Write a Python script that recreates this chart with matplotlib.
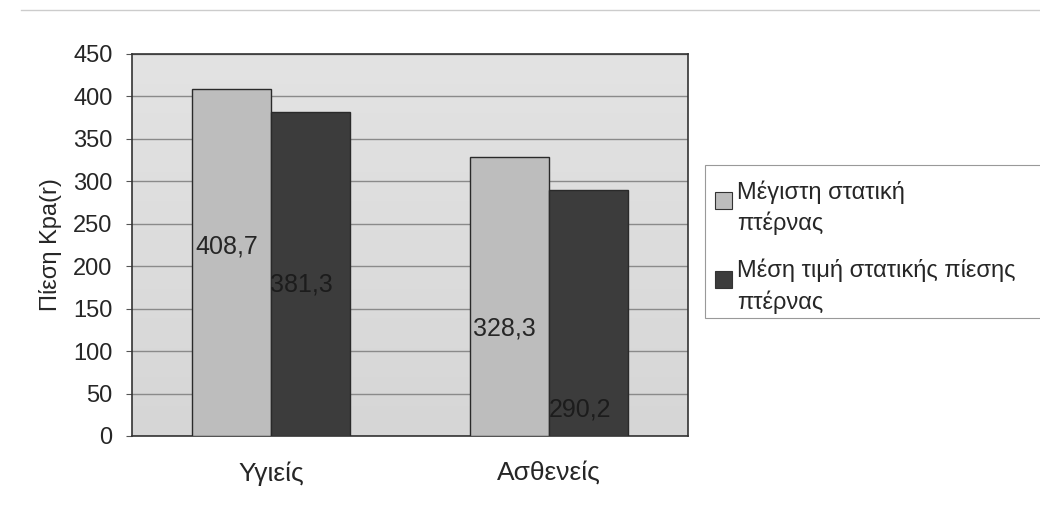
import matplotlib
matplotlib.use("Agg")
import matplotlib.pyplot as plt
import numpy as np
from matplotlib.patches import Rectangle
from matplotlib.lines import Line2D
from matplotlib.colors import LinearSegmentedColormap

plt.rcParams['font.family'] = ['Liberation Sans', 'DejaVu Sans']

categories = ["Υγιείς", "Ασθενείς"]
series_names = ["Μέγιστη στατική\nπτέρνας", "Μέση τιμή στατικής πίεσης\nπτέρνας"]
max_static = [408.7, 328.3]
mean_static = [381.3, 290.2]
label_texts_max = ["408,7", "328,3"]
label_texts_mean = ["381,3", "290,2"]
yticks = [0, 50, 100, 150, 200, 250, 300, 350, 400, 450]

# label vertical placement as fraction of the bar height (style)
label_frac_max = [0.546, 0.387]
label_frac_mean = [0.467, 0.107]

c_light = "#bdbdbd"
c_dark = "#3c3c3c"
series_colors = [c_light, c_dark]
txt = "#262626"

W, H = 1040, 514
fig = plt.figure(figsize=(10.4, 5.14), dpi=100)
fig.patch.set_facecolor("white")
ax = fig.add_axes([132/W, 1-436/H, (688-132)/W, (436-54)/H])

grad = np.linspace(0, 1, 256).reshape(-1, 1)
cmap = LinearSegmentedColormap.from_list("bg", ["#d6d6d6", "#e3e3e3"])
ax.imshow(grad, extent=[-0.5, 1.5, 0, 450], origin="lower", cmap=cmap,
          aspect="auto", zorder=0)

x = np.arange(len(categories))
w = 0.284
ax.bar(x - w/2, max_static, w, color=c_light, edgecolor="#2a2a2a", linewidth=1.0, zorder=3)
ax.bar(x + w/2, mean_static, w, color=c_dark, edgecolor="#2a2a2a", linewidth=1.0, zorder=3)

for i in range(len(categories)):
    ax.text(x[i] - w + 0.012, max_static[i]*label_frac_max[i], label_texts_max[i],
            fontsize=18, color=txt, ha="left", va="center", zorder=4)
    ax.text(x[i] - 0.002, mean_static[i]*label_frac_mean[i], label_texts_mean[i],
            fontsize=18, color="#1c1c1c", ha="left", va="center", zorder=4)

ax.set_xlim(-0.5, 1.5)
ax.set_ylim(0, 450)
ax.set_yticks(yticks)
ax.set_yticklabels([str(t) for t in yticks], fontsize=17, color=txt)
ax.set_xticks(x)
ax.set_xticklabels(categories, fontsize=19, color=txt)
ax.tick_params(axis="x", length=0, pad=18)
ax.tick_params(axis="y", length=4, width=0.8, color="#555555", pad=10)
ax.grid(axis="y", color="#8a8a8a", linewidth=1.0, zorder=1)
ax.set_axisbelow(True)
for s in ax.spines.values():
    s.set_color("#333333")
    s.set_linewidth(1.2)

ax.set_ylabel("Πίεση Kpa(r)", fontsize=17, color=txt, labelpad=8)

# manual legend (handles aligned with the first text line, as in the reference)
fig.add_artist(Rectangle((705/W, 1-318/H), (1045-705)/W, (318-165)/H,
                         transform=fig.transFigure, facecolor="white",
                         edgecolor="#999999", linewidth=0.8))
text_tops = [180, 259]
square_centers = [200, 279]
for name, col, yt, yc in zip(series_names, series_colors, text_tops, square_centers):
    fig.add_artist(Rectangle((715/W, 1-(yc+8.5)/H), 17/W, 17/H,
                             transform=fig.transFigure, facecolor=col,
                             edgecolor="#333333", linewidth=0.8))
    fig.text(737/W, 1-yt/H, name, fontsize=17, color=txt,
             ha="left", va="top", linespacing=1.45)

fig.add_artist(Line2D([0.02, 1.0], [1-10/H, 1-10/H], color="#cccccc", linewidth=1.0))

fig.savefig("out.png", dpi=100)
